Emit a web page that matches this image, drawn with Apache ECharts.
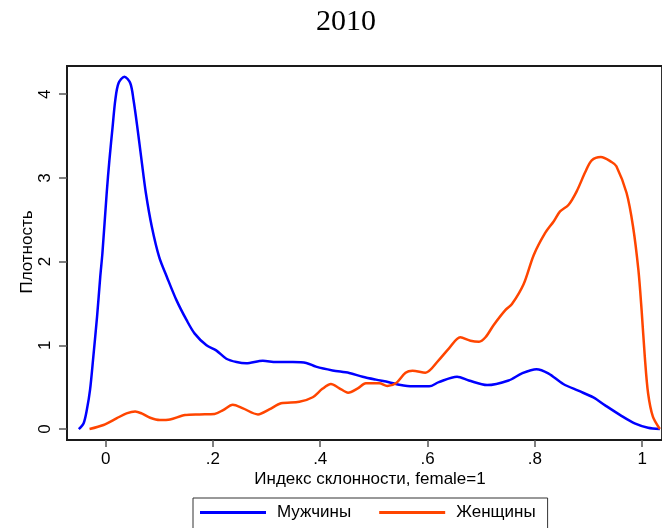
<!DOCTYPE html>
<html>
<head>
<meta charset="utf-8">
<script src="https://cdn.jsdelivr.net/npm/echarts@6/dist/echarts.min.js"></script>
<style>
  html, body { margin: 0; padding: 0; background: #fff; }
  #chart { width: 662px; height: 528px; }
</style>
</head>
<body>
<div id="chart"></div>
<script>
// Kernel density of the propensity index, by sex
const titleText = '2010';
const xAxisTitle = 'Индекс склонности, female=1';
const yAxisTitle = 'Плотность';
const seriesNames = ['Мужчины', 'Женщины'];

const xTickValues = [0, 0.2, 0.4, 0.6, 0.8, 1];
const xTickLabels = ['0', '.2', '.4', '.6', '.8', '1'];
const yTickValues = [0, 1, 2, 3, 4];
const yTickLabels = ['0', '1', '2', '3', '4'];

const menX = [-0.050, -0.041, -0.035, -0.029, -0.023, -0.016, -0.010, -0.006, 0.002, 0.007,
  0.013, 0.018, 0.024, 0.035, 0.046, 0.052, 0.059, 0.067, 0.075, 0.086,
  0.100, 0.114, 0.132, 0.151, 0.166, 0.188, 0.206, 0.225, 0.244, 0.262,
  0.293, 0.318, 0.349, 0.374, 0.392, 0.423, 0.454, 0.479, 0.504, 0.528,
  0.547, 0.572, 0.603, 0.621, 0.655, 0.677, 0.711, 0.751, 0.776, 0.803,
  0.825, 0.853, 0.881, 0.909, 0.931, 0.962, 0.986, 1.011, 1.033];
const menY = [0.00, 0.07, 0.23, 0.47, 0.86, 1.34, 1.82, 2.10, 2.82, 3.21,
  3.61, 3.93, 4.13, 4.21, 4.13, 3.93, 3.61, 3.21, 2.82, 2.42,
  2.05, 1.82, 1.54, 1.30, 1.14, 1.00, 0.94, 0.84, 0.80, 0.785,
  0.816, 0.80, 0.80, 0.79, 0.745, 0.70, 0.67, 0.625, 0.59, 0.56,
  0.53, 0.51, 0.51, 0.56, 0.625, 0.58, 0.525, 0.58, 0.665, 0.715,
  0.665, 0.538, 0.458, 0.378, 0.283, 0.155, 0.068, 0.016, 0.00];

const womenX = [-0.030, -0.004, 0.021, 0.039, 0.055, 0.067, 0.083, 0.101, 0.120, 0.148,
  0.175, 0.203, 0.219, 0.237, 0.256, 0.284, 0.305, 0.327, 0.361, 0.386,
  0.404, 0.420, 0.435, 0.452, 0.470, 0.485, 0.510, 0.525, 0.541, 0.559,
  0.572, 0.596, 0.621, 0.640, 0.661, 0.680, 0.696, 0.708, 0.723, 0.745,
  0.757, 0.779, 0.798, 0.819, 0.835, 0.847, 0.863, 0.878, 0.894, 0.906,
  0.923, 0.943, 0.952, 0.971, 0.983, 0.993, 0.999, 1.005, 1.011, 1.020, 1.033];
const womenY = [0.00, 0.048, 0.13, 0.187, 0.21, 0.187, 0.135, 0.108, 0.115, 0.167,
  0.175, 0.18, 0.227, 0.29, 0.247, 0.175, 0.235, 0.307, 0.326, 0.38,
  0.48, 0.538, 0.49, 0.434, 0.486, 0.546, 0.546, 0.514, 0.546, 0.673,
  0.697, 0.673, 0.824, 0.964, 1.096, 1.055, 1.043, 1.096, 1.24, 1.42,
  1.49, 1.73, 2.08, 2.34, 2.48, 2.60, 2.68, 2.84, 3.07, 3.21,
  3.25, 3.19, 3.14, 2.82, 2.42, 1.90, 1.42, 0.86, 0.43, 0.147, 0.00];

const pairs = (xs, ys) => xs.map((x, i) => [x, ys[i]]);
const labelFor = (values, labels) => v => {
  const i = values.findIndex(t => Math.abs(t - v) < 1e-9);
  return i >= 0 ? labels[i] : '';
};

const sans = '"Liberation Sans", Arial, sans-serif';
const frameColor = '#1a1a1a';
const tickColor = '#555555';
const chart = echarts.init(document.getElementById('chart'), null, { renderer: 'canvas' });

chart.setOption({
  backgroundColor: '#ffffff',
  animation: false,
  title: {
    text: titleText,
    left: 346,
    top: 7,
    padding: 0,
    textAlign: 'center',
    textStyle: { fontFamily: '"Liberation Serif", "Times New Roman", serif', fontSize: 30, fontWeight: 'normal', color: '#000' }
  },
  grid: {
    left: 67, top: 66, width: 597, height: 374,
    show: true, borderColor: frameColor, borderWidth: 1.8, backgroundColor: 'transparent'
  },
  xAxis: {
    type: 'value',
    min: -0.072, max: 1.037,
    axisLine: { show: true, onZero: false, lineStyle: { color: frameColor, width: 1.8 } },
    splitLine: { show: false },
    axisTick: { show: true, customValues: xTickValues, length: 7, lineStyle: { color: tickColor, width: 1.5 } },
    axisLabel: {
      customValues: xTickValues, margin: 11,
      formatter: labelFor(xTickValues, xTickLabels),
      fontFamily: sans, fontSize: 17, color: '#000'
    }
  },
  yAxis: {
    type: 'value',
    min: -0.131, max: 4.337,
    axisLine: { show: true, onZero: false, lineStyle: { color: frameColor, width: 1.8 } },
    splitLine: { show: false },
    axisTick: { show: true, customValues: yTickValues, length: 8, lineStyle: { color: tickColor, width: 1.5 } },
    axisLabel: {
      customValues: yTickValues, margin: 13, rotate: 90,
      formatter: labelFor(yTickValues, yTickLabels),
      fontFamily: sans, fontSize: 17, color: '#000'
    }
  },
  legend: {
    left: 193, top: 498,
    orient: 'horizontal',
    icon: 'rect',
    itemWidth: 66, itemHeight: 3, itemGap: 28,
    padding: [6, 12, 20, 7],
    borderColor: '#333', borderWidth: 1,
    textStyle: { fontFamily: sans, fontSize: 17, color: '#000', padding: [0, 0, 0, 6] },
    data: seriesNames
  },
  graphic: [
    {
      type: 'text', x: 370, y: 479,
      style: { text: xAxisTitle, fontFamily: sans, fontSize: 17, fill: '#000', textAlign: 'center', textVerticalAlign: 'middle' }
    },
    {
      type: 'text', x: 27, y: 252, rotation: Math.PI / 2,
      style: { text: yAxisTitle, fontFamily: sans, fontSize: 17, fill: '#000', textAlign: 'center', textVerticalAlign: 'middle' }
    }
  ],
  series: [
    {
      name: seriesNames[0], type: 'line', data: pairs(menX, menY),
      showSymbol: false, smooth: 0.3,
      lineStyle: { color: '#0000ff', width: 2.5 }, itemStyle: { color: '#0000ff' }
    },
    {
      name: seriesNames[1], type: 'line', data: pairs(womenX, womenY),
      showSymbol: false, smooth: 0.3,
      lineStyle: { color: '#ff4500', width: 2.5 }, itemStyle: { color: '#ff4500' }
    }
  ]
});
</script>
</body>
</html>
